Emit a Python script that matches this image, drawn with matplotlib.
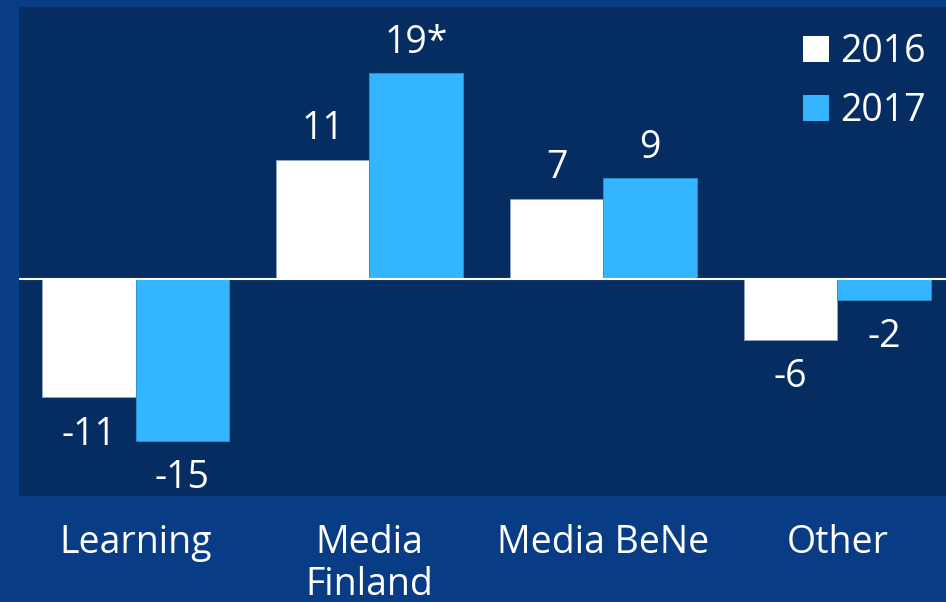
import matplotlib
matplotlib.use("Agg")
import matplotlib.pyplot as plt
from matplotlib.patches import Patch
import numpy as np

categories = ["Learning", "Media\nFinland", "Media BeNe", "Other"]
series_names = ["2016", "2017"]
values_2016 = [-10.9, 11.0, 7.4, -5.6]
values_2017 = [-14.9, 19.0, 9.3, -1.9]
labels_2016 = ["-11", "11", "7", "-6"]
labels_2017 = ["-15", "19*", "9", "-2"]

fig_bg = "#083c85"
ax_bg = "#052d61"
c16 = "#ffffff"
c17 = "#33b5ff"

plt.rcParams['font.family'] = ['Open Sans', 'DejaVu Sans']
FS = 27
FW = "normal"

fig = plt.figure(figsize=(9.46, 6.02), dpi=100, facecolor=fig_bg)
ax = fig.add_axes([19/946, 1 - 496/602, 1 - 19/946, (496 - 7)/602])
ax.set_facecolor(ax_bg)

x = np.arange(len(categories))
w = 0.4
b1 = ax.bar(x - w/2, values_2016, w, color=c16, edgecolor="#8fa6c4", linewidth=0.6, label=series_names[0])
b2 = ax.bar(x + w/2, values_2017, w, color=c17, edgecolor="#2a8fd0", linewidth=0.6, label=series_names[1])

for bars, labs in ((b1, labels_2016), (b2, labels_2017)):
    for rect, lab in zip(bars, labs):
        h = rect.get_height()
        cx = rect.get_x() + rect.get_width() / 2
        if h >= 0:
            ax.annotate(lab, (cx, h), xytext=(0, 22), textcoords="offset points",
                        ha="center", va="center", color="white", fontsize=FS, fontweight=FW)
        else:
            ax.annotate(lab, (cx, h), xytext=(0, -27), textcoords="offset points",
                        ha="center", va="center", color="white", fontsize=FS, fontweight=FW)

ax.axhline(0, color="white", linewidth=1.5)
ax.set_xlim(-0.498, 3.464)
ax.set_ylim(-20, 25.1)

ax.set_xticks(x)
ax.set_xticklabels(categories, color="white", fontsize=FS, fontweight=FW, linespacing=1.15, va="top")
ax.tick_params(axis="x", length=0, pad=20)
ax.set_yticks([])
for s in ax.spines.values():
    s.set_visible(False)

handles = [Patch(facecolor=c16, edgecolor="none"), Patch(facecolor=c17, edgecolor="none")]
leg = ax.legend(handles, series_names, loc="upper right", frameon=False,
                prop={"size": FS, "weight": FW},
                labelcolor="white", handlelength=0.7, handleheight=0.7,
                handletextpad=0.3, labelspacing=0.55, borderaxespad=0.3,
                bbox_to_anchor=(1.007, 1.0))

fig.savefig("out.png", dpi=100, facecolor=fig_bg)
